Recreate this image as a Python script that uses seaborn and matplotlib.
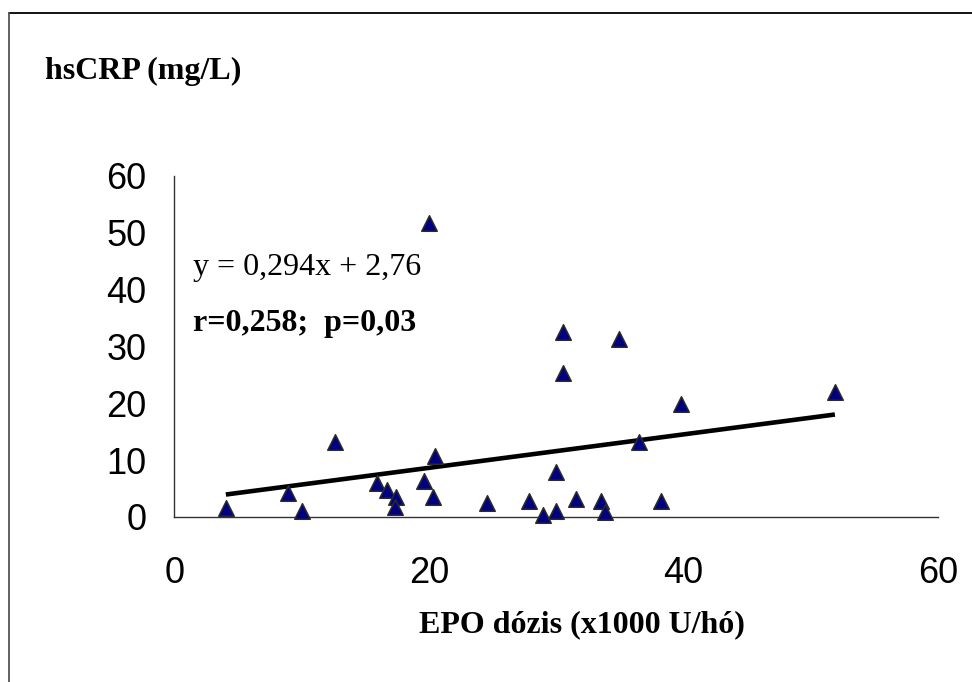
import matplotlib
matplotlib.use("Agg")
import matplotlib.pyplot as plt
from matplotlib.lines import Line2D
import numpy as np
import pandas as pd
import seaborn as sns

# EPO dose (x1000 U/month) and hsCRP (mg/L) per patient
epo_dose = [4.05, 8.9, 10.0, 12.65, 15.9, 16.7, 17.4, 17.3, 20.0, 19.65, 20.5, 20.35,
            24.6, 27.9, 28.95, 30.0, 30.0, 30.55, 30.55, 31.55, 33.5, 33.85, 34.95,
            36.5, 38.25, 39.8, 51.9]
hscrp = [1.5, 4.3, 1.05, 13.1, 5.9, 4.75, 3.6, 1.8, 51.6, 6.4, 10.7, 3.6,
         2.4, 2.8, 0.35, 1.1, 7.85, 32.5, 25.4, 3.2, 2.8, 0.95, 31.3,
         13.1, 2.8, 19.8, 21.9]

# linear fit reported on the chart
slope = 0.294
intercept = 2.76
r_text = "r=0,258;  p=0,03"
eq_text = "y = 0,294x + 2,76"

x_ticks = [0, 20, 40, 60]
y_ticks = [0, 10, 20, 30, 40, 50, 60]

df = pd.DataFrame({"epo": epo_dose, "crp": hscrp})

sns.set_style("white")
plt.rcParams["font.family"] = ["Liberation Sans", "DejaVu Sans"]
plt.rcParams["text.color"] = "black"
plt.rcParams["xtick.color"] = "black"
plt.rcParams["ytick.color"] = "black"

W, H = 972, 682
fig = plt.figure(figsize=(W / 100, H / 100), dpi=100)
ax = fig.add_axes([174.3 / W, 1 - 517 / H, (938 - 174.3) / W, (517 - 175.7) / H])

# trend line over the observed dose range
xs = np.array([min(epo_dose), max(epo_dose)])
ax.plot(xs, slope * xs + intercept, color="black", lw=3.3, solid_capstyle="butt", zorder=2)

sns.scatterplot(data=df, x="epo", y="crp", marker="^", s=125, color="#000080",
                edgecolor="#2b2b2b", linewidth=1.1, ax=ax, zorder=3, clip_on=False,
                legend=False)

ax.set_xlim(0, 60)
ax.set_ylim(0, 60)
ax.set_xticks(x_ticks)
ax.set_yticks(y_ticks)
ax.set_xticklabels([str(t) for t in x_ticks])
ax.set_yticklabels([str(t) for t in y_ticks])
ax.set_xlabel("")
ax.set_ylabel("")

for side in ("top", "right"):
    ax.spines[side].set_visible(False)
for side in ("left", "bottom"):
    ax.spines[side].set_color("#333333")
    ax.spines[side].set_linewidth(1.0)

ax.tick_params(axis="both", direction="out", length=8, width=1.0, color="#555555",
               labelsize=26, labelcolor="black")
ax.tick_params(axis="x", pad=20)
ax.tick_params(axis="y", pad=12)

serif = ["Liberation Serif", "DejaVu Serif"]
ax.text(193 / W, 1 - 275.5 / H, eq_text, transform=fig.transFigure, family=serif,
        fontsize=23, va="baseline", ha="left", color="black")
ax.text(193 / W, 1 - 330.5 / H, r_text, transform=fig.transFigure, family=serif,
        fontsize=23, fontweight="bold", va="baseline", ha="left", color="black")

fig.text(45 / W, 1 - 79 / H, "hsCRP (mg/L)", family=serif, fontsize=23,
         fontweight="bold", va="baseline", ha="left", color="black")
fig.text(582 / W, 1 - 632.5 / H, "EPO dózis (x1000 U/hó)", family=serif, fontsize=23,
         fontweight="bold", va="baseline", ha="center", color="black")

# outer frame (top and left edges)
fig.add_artist(Line2D([9 / W, 1.0], [1 - 13 / H, 1 - 13 / H], transform=fig.transFigure,
                      color="black", lw=1.3))
fig.add_artist(Line2D([9 / W, 9 / W], [1 - 13 / H, 0.0], transform=fig.transFigure,
                      color="#555555", lw=1.3))

fig.savefig("out.png", dpi=100)
